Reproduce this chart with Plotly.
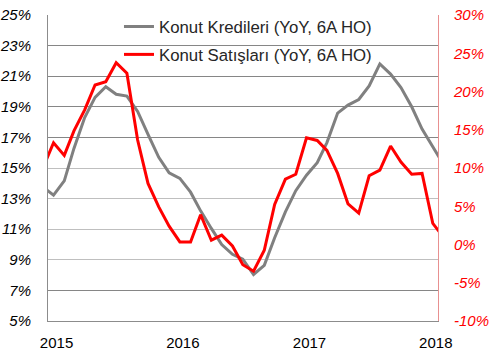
import plotly.graph_objects as go

# Monthly points: Dec 2014 .. Feb 2018 (edge months are partly outside the visible range)
months = ["2014-12-01", "2015-01-01", "2015-02-01", "2015-03-01", "2015-04-01", "2015-05-01",
          "2015-06-01", "2015-07-01", "2015-08-01", "2015-09-01", "2015-10-01", "2015-11-01",
          "2015-12-01", "2016-01-01", "2016-02-01", "2016-03-01", "2016-04-01", "2016-05-01",
          "2016-06-01", "2016-07-01", "2016-08-01", "2016-09-01", "2016-10-01", "2016-11-01",
          "2016-12-01", "2017-01-01", "2017-02-01", "2017-03-01", "2017-04-01", "2017-05-01",
          "2017-06-01", "2017-07-01", "2017-08-01", "2017-09-01", "2017-10-01", "2017-11-01",
          "2017-12-01", "2018-01-01", "2018-02-01"]

konut_kredileri = [13.77, 13.22, 14.16, 16.28, 18.3, 19.62, 20.31, 19.82, 19.7, 18.7,
                   17.2, 15.7, 14.68, 14.32, 13.42, 12.2, 11.05, 10.0, 9.36, 9.04,
                   8.04, 8.64, 10.44, 12.13, 13.52, 14.53, 15.35, 16.66, 18.59, 19.11,
                   19.48, 20.36, 21.8, 21.14, 20.26, 19.0, 17.54, 16.4, 15.22]

konut_satislari = [10.0, 13.3, 11.65, 14.85, 17.6, 20.85, 21.28, 23.77, 22.38, 13.65,
                   7.98, 4.92, 2.4, 0.34, 0.34, 3.9, 0.56, 1.22, -0.2, -2.64,
                   -3.49, -0.75, 5.25, 8.55, 9.18, 13.95, 13.6, 12.3, 9.29, 5.3,
                   4.1, 8.99, 9.72, 12.87, 10.77, 9.18, 9.29, 2.75, 0.95]

year_ticks = ["2015-01-01", "2016-01-01", "2017-01-01", "2018-01-01"]
year_labels = ["2015", "2016", "2017", "2018"]

right_ticks = [-10, -5, 0, 5, 10, 15, 20, 25, 30]
right_labels = [f"{v}%" for v in right_ticks]

name_kredi = "Konut Kredileri (YoY, 6A HO)"
name_satis = "Konut Satışları (YoY, 6A HO)"

FONT = "Liberation Sans, Arial, sans-serif"

fig = go.Figure()
fig.add_trace(go.Scatter(x=months, y=konut_kredileri, name=name_kredi, mode="lines",
                         line=dict(color="#808080", width=3), yaxis="y", legend="legend"))
fig.add_trace(go.Scatter(x=months, y=konut_satislari, name=name_satis, mode="lines",
                         line=dict(color="#FF0000", width=3), yaxis="y2", legend="legend2"))
# invisible helper trace so the darker-grid overlay axis is drawn
fig.add_trace(go.Scatter(x=[months[1]], y=[None], yaxis="y3", showlegend=False,
                         hoverinfo="skip", mode="lines"))

fig.update_layout(
    width=490, height=355, autosize=False,
    margin=dict(l=48, r=52, t=15, b=34, autoexpand=False),
    paper_bgcolor="white", plot_bgcolor="white",
    font=dict(family=FONT, size=15, color="#000000"),
    xaxis=dict(type="date", range=["2014-12-16", "2018-01-16"],
               tickvals=year_ticks, ticktext=year_labels,
               showgrid=False, zeroline=False,
               showline=True, linecolor="#8C8C8C", linewidth=1,
               ticks="", ticklabelstandoff=8, ticklabelshift=3,
               ticklabeloverflow="allow",
               tickfont=dict(family=FONT, size=15, color="#000000")),
    yaxis=dict(range=[5, 25], dtick=2, tick0=5, ticksuffix="%",
               showgrid=True, gridcolor="#BFBFBF", gridwidth=1,
               zeroline=False, showline=True, linecolor="#8C8C8C", linewidth=1,
               ticks="", ticklabelstandoff=13, ticklabeloverflow="allow",
               tickfont=dict(family=FONT, size=15, color="#000000", style="italic")),
    yaxis2=dict(range=[-10, 30], tickvals=right_ticks, ticktext=right_labels,
                overlaying="y", side="right", anchor="x",
                showgrid=False, zeroline=False,
                showline=True, linecolor="#E89090", linewidth=1,
                ticks="", ticklabelstandoff=12, ticklabeloverflow="allow",
                tickfont=dict(family=FONT, size=15, color="#FF0000", style="italic")),
    yaxis3=dict(range=[5, 25], overlaying="y", side="left", anchor="x",
                tickvals=[7, 17, 19, 21, 23, 25], showticklabels=False,
                showgrid=True, gridcolor="#868686", gridwidth=1,
                zeroline=False, showline=False, ticks=""),
    legend=dict(x=0.182, y=0.962, xanchor="left", yanchor="middle",
                bgcolor="rgba(0,0,0,0)", borderwidth=0,
                font=dict(family=FONT, size=16.8, color="#262626")),
    legend2=dict(x=0.182, y=0.871, xanchor="left", yanchor="middle",
                 bgcolor="rgba(0,0,0,0)", borderwidth=0,
                 font=dict(family=FONT, size=16.8, color="#262626")),
    showlegend=True,
)

fig.write_html("out.html",
               config={"displayModeBar": False},
               post_script="document.body.style.margin='0px';document.body.style.overflow='hidden';")
